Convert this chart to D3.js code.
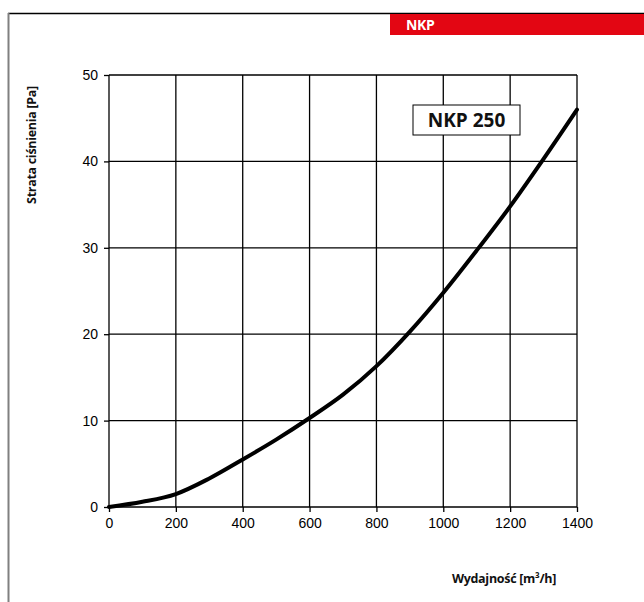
<!DOCTYPE html>
<html>
<head>
<meta charset="utf-8">
<script src="https://cdn.jsdelivr.net/npm/d3@7"></script>
<style>
  html, body { margin: 0; padding: 0; background: #fff; }
  svg { display: block; }
</style>
</head>
<body>
<svg id="chart" width="644" height="602"></svg>
<script>
const flowValues = [0, 100, 200, 300, 400, 500, 600, 700, 800, 900, 1000, 1100, 1200, 1300, 1400];
const pressureValues = [0, 0.6, 1.5, 3.3, 5.5, 7.8, 10.3, 13.0, 16.3, 20.3, 24.8, 29.7, 34.8, 40.3, 46.0];
const xTicks = [0, 200, 400, 600, 800, 1000, 1200, 1400];
const yTicks = [0, 10, 20, 30, 40, 50];
const seriesLabel = "NKP 250";
const headerLabel = "NKP";
const xTitle = "Wydajność [m³/h]";
const yTitle = "Strata ciśnienia [Pa]";

const svg = d3.select("#chart");
const W = 644, H = 602;
const L = 109, R = 577, T = 75, B = 507;

// frame
svg.append("line").attr("x1", 8).attr("x2", W).attr("y1", 13.5).attr("y2", 13.5)
  .attr("stroke", "#000").attr("stroke-width", 1.5);
svg.append("line").attr("x1", 8.5).attr("x2", 8.5).attr("y1", 13).attr("y2", H)
  .attr("stroke", "#808080").attr("stroke-width", 2);
svg.append("rect").attr("x", 390).attr("y", 14).attr("width", W - 390).attr("height", 21)
  .attr("fill", "#e30613");
svg.append("text").attr("x", 406).attr("y", 30).text(headerLabel)
  .attr("fill", "#fff").attr("font-family", "'Open Sans', sans-serif")
  .attr("font-weight", "bold").attr("font-size", 14).attr("letter-spacing", -0.3);

const x = d3.scaleLinear().domain([0, 1400]).range([L, R]);
const y = d3.scaleLinear().domain([0, 50]).range([B, T]);

// grid
const g = svg.append("g");
g.selectAll(".vg").data(xTicks).join("line")
  .attr("x1", d => x(d)).attr("x2", d => x(d)).attr("y1", T).attr("y2", B)
  .attr("stroke", "#000").attr("stroke-width", 1.3);
g.selectAll(".hg").data(yTicks).join("line")
  .attr("x1", L).attr("x2", R).attr("y1", d => y(d)).attr("y2", d => y(d))
  .attr("stroke", "#000").attr("stroke-width", 1.3);

// axes
const xAxis = d3.axisBottom(x).tickValues(xTicks).tickSize(5).tickPadding(6).tickFormat(d3.format("d"));
const yAxis = d3.axisLeft(y).tickValues(yTicks).tickSize(5).tickPadding(6).tickFormat(d3.format("d"));
const xa = svg.append("g").attr("transform", `translate(0,${B})`).call(xAxis);
const ya = svg.append("g").attr("transform", `translate(${L},0)`).call(yAxis);
[xa, ya].forEach(a => {
  a.select(".domain").remove();
  a.selectAll(".tick line").attr("stroke", "#000").attr("stroke-width", 1.3);
  a.selectAll(".tick text").attr("fill", "#000")
    .attr("font-family", "'Liberation Sans', Arial, sans-serif").attr("font-size", 14);
});

// curve
const line = d3.line().x((d, i) => x(flowValues[i])).y(d => y(d)).curve(d3.curveMonotoneX);
svg.append("path").datum(pressureValues).attr("d", line)
  .attr("fill", "none").attr("stroke", "#000").attr("stroke-width", 4)
  .attr("stroke-linecap", "round");

// label box
const bx = 413, by = 105, bw = 107, bh = 30;
svg.append("rect").attr("x", bx).attr("y", by).attr("width", bw).attr("height", bh)
  .attr("fill", "#fff").attr("stroke", "#000").attr("stroke-width", 1);
svg.append("text").attr("x", bx + bw / 2).attr("y", by + 22).attr("text-anchor", "middle")
  .text(seriesLabel).attr("font-family", "'Open Sans', sans-serif")
  .attr("font-weight", "bold").attr("font-size", 19).attr("fill", "#111");

// axis titles
svg.append("text").attr("x", 504).attr("y", 583).attr("text-anchor", "middle")
  .text(xTitle).attr("font-family", "'Open Sans', sans-serif")
  .attr("font-weight", "bold").attr("font-size", 12.5).attr("fill", "#111")
  .attr("letter-spacing", -0.3);
svg.append("text").attr("transform", "translate(36,145) rotate(-90)").attr("text-anchor", "middle")
  .text(yTitle).attr("font-family", "'Open Sans', sans-serif")
  .attr("font-weight", "bold").attr("font-size", 12.5).attr("fill", "#111")
  .attr("letter-spacing", -0.3);
</script>
</body>
</html>
